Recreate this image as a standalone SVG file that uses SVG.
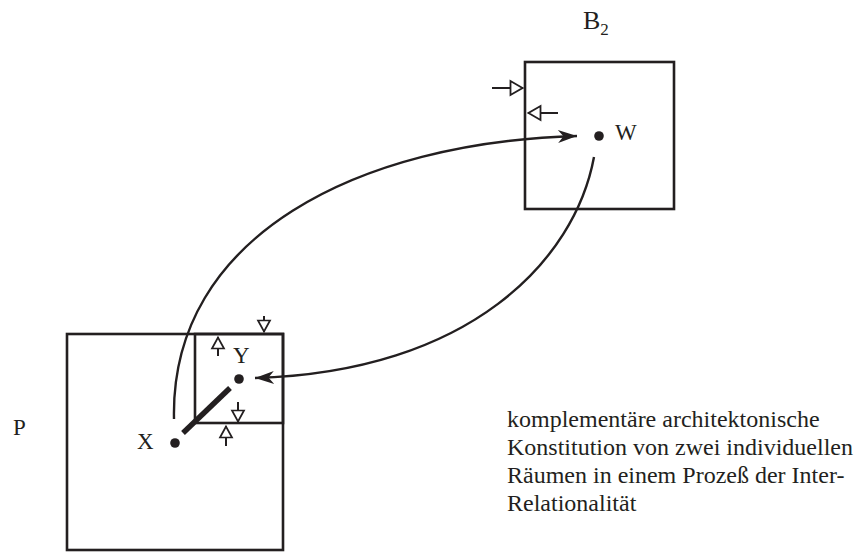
<svg xmlns="http://www.w3.org/2000/svg" width="867" height="554" viewBox="0 0 867 554">
<defs>
<style>
.box{fill:none;stroke:#231f20;stroke-width:2.6}
.curve{fill:none;stroke:#231f20;stroke-width:2.4}
.small{fill:none;stroke:#231f20;stroke-width:2}
.dot{fill:#231f20}
.lbl{font-family:"Liberation Serif","Times New Roman",serif;font-size:23px;fill:#231f20}
.txt{font-family:"Liberation Serif","Times New Roman",serif;font-size:24px;fill:#231f20}
</style>
<marker id="solid" markerUnits="userSpaceOnUse" viewBox="-20 -8 21 16" refX="0" refY="0" markerWidth="21" markerHeight="16" orient="auto">
<path d="M0,0 L-19,-6.5 L-13.5,0 L-19,6.5 Z" fill="#231f20"/>
</marker>
<marker id="open" markerUnits="userSpaceOnUse" viewBox="-14 -8 15 16" refX="0" refY="0" markerWidth="15" markerHeight="16" orient="auto">
<path d="M-0.5,0 L-11.5,-6 L-11.5,6 Z" fill="#fff" stroke="#231f20" stroke-width="1.7"/>
</marker>
<marker id="openL" markerUnits="userSpaceOnUse" viewBox="-15 -9 16 18" refX="0" refY="0" markerWidth="16" markerHeight="18" orient="auto">
<path d="M-0.5,0 L-12.5,-7 L-12.5,7 Z" fill="#fff" stroke="#231f20" stroke-width="1.8"/>
</marker>
</defs>

<g id="nodeB2">
<rect class="box" x="525" y="62" width="149" height="147"/>
<text class="lbl" x="583" y="29" style="font-size:26px">B<tspan dy="6" style="font-size:17px">2</tspan></text>
<line class="small" x1="492" y1="88" x2="523" y2="88" marker-end="url(#openL)"/>
<line class="small" x1="558" y1="113" x2="528" y2="113" marker-end="url(#openL)"/>
</g>

<g id="nodeW">
<circle class="dot" cx="599" cy="136" r="4.8"/>
<text class="lbl" x="615" y="140">W</text>
</g>

<g id="nodeP">
<rect class="box" x="67" y="334" width="216" height="216"/>
<text class="lbl" x="13" y="435">P</text>
</g>

<g id="nodeInner">
<rect class="box" x="195" y="334" width="88" height="89"/>
<line class="small" x1="218" y1="356" x2="218" y2="337" marker-end="url(#open)"/>
<line class="small" x1="264" y1="316" x2="264" y2="332" marker-end="url(#open)"/>
<line class="small" x1="238" y1="402" x2="238" y2="422" marker-end="url(#open)"/>
<line class="small" x1="226" y1="446" x2="226" y2="426" marker-end="url(#open)"/>
</g>

<g id="nodeY">
<circle class="dot" cx="239" cy="379" r="4.8"/>
<text class="lbl" x="233" y="363">Y</text>
</g>

<g id="nodeX">
<circle class="dot" cx="175" cy="443" r="4.8"/>
<text class="lbl" x="137" y="449">X</text>
</g>

<g id="connectors">
<line x1="183" y1="433" x2="230" y2="388" stroke="#231f20" stroke-width="5.5"/>
<path class="curve" d="M174,419 C170,235 360,142 577,136" marker-end="url(#solid)"/>
<path class="curve" d="M594,157 C575,260 470,372 255,378" marker-end="url(#solid)"/>
</g>

<g id="caption">
<text class="txt" x="507" y="427">komplementäre architektonische</text>
<text class="txt" x="507" y="455">Konstitution von zwei individuellen</text>
<text class="txt" x="507" y="483">Räumen in einem Prozeß der Inter-</text>
<text class="txt" x="507" y="511">Relationalität</text>
</g>
</svg>
